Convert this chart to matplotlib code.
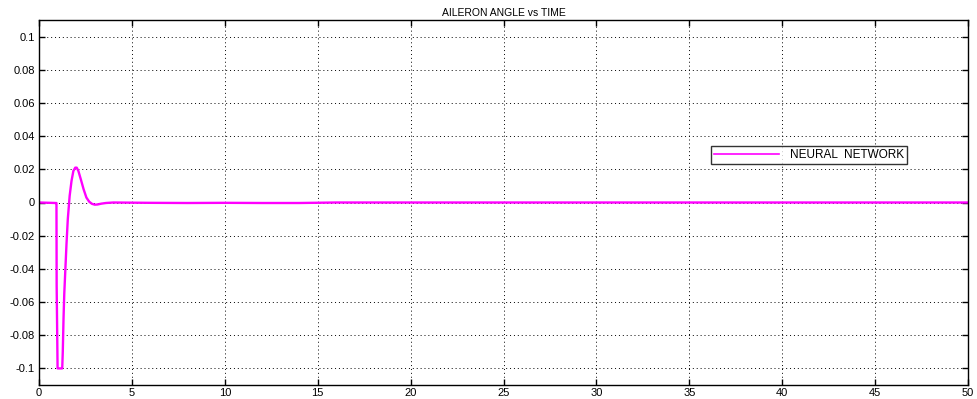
import matplotlib.pyplot as plt

# aileron deflection (time in s)
time = [0, 0.9, 0.94, 0.95, 0.97, 1.0, 1.25, 1.28, 1.32, 1.36, 1.42, 1.48,
        1.55, 1.65, 1.75, 1.85, 1.95, 2.03, 2.12, 2.25, 2.4, 2.55, 2.7,
        2.85, 3.0, 3.15, 3.35, 3.6, 4.0, 6.0, 8.0, 10.0, 12.0, 14.0, 16.0, 50.0]
angle = [0, -0.0003, -0.0003, -0.05, -0.07, -0.1, -0.1, -0.09, -0.07, -0.055,
         -0.04, -0.025, -0.01, 0.004, 0.013, 0.019, 0.021, 0.021, 0.019, 0.014,
         0.008, 0.003, 0.0005, -0.0008, -0.0013, -0.0012, -0.0007, -0.0003, 0.0,
         -0.0002, -0.0003, -0.0002, -0.0003, -0.0003, 0.0, 0.0]

xticks = list(range(0, 51, 5))
yticks = [-0.1, -0.08, -0.06, -0.04, -0.02, 0, 0.02, 0.04, 0.06, 0.08, 0.1]
ytick_labels = ['-0.1', '-0.08', '-0.06', '-0.04', '-0.02', '0',
                '0.02', '0.04', '0.06', '0.08', '0.1']

plt.rcParams['font.family'] = ['Liberation Sans', 'DejaVu Sans']

fig = plt.figure(figsize=(9.77, 3.99), dpi=100)
ax = fig.add_axes([39 / 977, 14 / 399, 929 / 977, 365 / 399])

ax.plot(time, angle, color='#ff00ff', linewidth=1.7, label='NEURAL  NETWORK')

ax.set_xlim(0, 50)
ax.set_ylim(-0.11, 0.11)
ax.set_xticks(xticks)
ax.set_yticks(yticks)
ax.set_yticklabels(ytick_labels)
ax.tick_params(direction='in', length=4, width=1, labelsize=8,
               top=True, right=True, pad=3)
ax.tick_params(axis='x', pad=2)
ax.grid(True, color='black', linestyle=(0, (1, 3)), linewidth=0.7)

for s in ax.spines.values():
    s.set_linewidth(1)

ax.set_title('AILERON ANGLE vs TIME', fontsize=7.5, pad=3)

leg = ax.legend(loc='center', bbox_to_anchor=(0.829, 0.63), fontsize=8.5,
                frameon=True, fancybox=False, edgecolor='black',
                handlelength=5.5, borderpad=0.25, handletextpad=0.9)
leg.get_frame().set_linewidth(1)
for line in leg.get_lines():
    line.set_linewidth(1.2)

fig.savefig('out.png', dpi=100)
